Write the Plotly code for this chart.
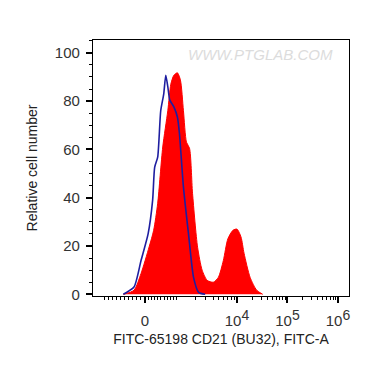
import plotly.graph_objects as go
import numpy as np

# x positions in display (decade) units: 10^4 -> 4, 10^5 -> 5, 10^6 -> 6
red_x = [1.75, 1.96, 2.10, 2.26, 2.35, 2.43, 2.53, 2.63, 2.69, 2.75, 2.82, 2.88, 2.94, 3.00, 3.06,
         3.12, 3.22, 3.31, 3.41, 3.53, 3.63, 3.73, 3.82, 3.92, 4.00, 4.08, 4.14, 4.26, 4.39, 4.51]
red_y = [0, 1.7, 8.6, 19.6, 26.5, 37.7, 61, 76, 87, 90.7, 91.7, 88.7, 76, 63, 60.5,
         41.8, 19.5, 10, 5.8, 5, 7, 14, 23, 26.5, 27, 23.7, 17, 7, 1.7, 0]

blue_x = [1.75, 1.96, 2.10, 2.24, 2.33, 2.37, 2.43, 2.49, 2.55, 2.59, 2.63, 2.67, 2.75, 2.82,
          2.86, 2.94, 3.04, 3.14, 3.24, 3.37]
blue_y = [0, 3, 14, 25, 39, 52.6, 56.8, 76, 83, 90.7, 86, 80.4, 77.6, 73.4,
          66.7, 44.4, 25, 7, 0.8, 0]

tick_vals = [1.386, 2.178, 2.812, 4, 5, 6]
tick_text = ["", "0", "",
             "10<sup><span style='font-size:14px'>4</span></sup>",
             "10<sup><span style='font-size:14px'>5</span></sup>",
             "10<sup><span style='font-size:14px'>6</span></sup>"]
y_ticks = [0, 20, 40, 60, 80, 100]

# minor tick positions (biexponential-like axis)
minor = []
for v in range(-1000, 1001, 100):
    if v < 0:
        minor.append(2.178 + (v / 1000) * (2.178 - 1.386))
    else:
        minor.append(2.178 + (v / 1000) * (2.812 - 2.178))
for m in range(2, 10):
    minor.append(2.812 + np.log10(m) * (4 - 2.812))
    minor.append(4 + np.log10(m))
    minor.append(5 + np.log10(m))

fig = go.Figure()
fig.add_trace(go.Scatter(x=red_x, y=red_y, mode="lines", fill="tozeroy",
                         fillcolor="#ff0000", line=dict(color="#ff0000", width=1,
                                                        shape="spline", smoothing=0.7),
                         hoverinfo="skip", showlegend=False))
fig.add_trace(go.Scatter(x=blue_x, y=blue_y, mode="lines",
                         line=dict(color="#1e1ea0", width=1.6, shape="spline", smoothing=0.6),
                         hoverinfo="skip", showlegend=False))

font = "Liberation Sans, Arial, sans-serif"
fig.update_layout(
    width=362, height=357,
    margin=dict(l=85, r=21, t=32, b=69),
    paper_bgcolor="white", plot_bgcolor="white",
    font=dict(family=font, size=14, color="#222"),
    xaxis=dict(range=[1.149, 6.218], tickmode="array", tickvals=tick_vals, ticktext=tick_text,
               automargin=False,
               showgrid=False, zeroline=False, showline=True, linecolor="black", linewidth=1.2,
               mirror=True, ticks="outside", ticklen=6, tickcolor="black", tickwidth=1.5,
               minor=dict(tickmode="array", tickvals=minor, ticks="outside", ticklen=3,
                          tickcolor="black", tickwidth=1),
               tickfont=dict(size=15, color="#333"), ticklabelstandoff=5,
               title=dict(text="FITC-65198 CD21 (BU32), FITC-A", font=dict(size=14), standoff=6)),
    yaxis=dict(range=[-0.7, 105.3], tickmode="array", tickvals=y_ticks,
               automargin=False,
               showgrid=False, zeroline=False, showline=True, linecolor="black", linewidth=1.2,
               mirror=True, ticks="outside", ticklen=6, tickcolor="black", tickwidth=1.5,
               minor=dict(dtick=5, tick0=0, ticks="outside", ticklen=3, tickcolor="black", tickwidth=1),
               tickfont=dict(size=15, color="#333"), ticklabelstandoff=3,
               title=dict(text="Relative cell number", font=dict(size=14), standoff=13)),
    annotations=[dict(text="<i>WWW.PTGLAB.COM</i>", xref="paper", yref="paper",
                      x=0.655, y=0.985, xanchor="center", yanchor="top", showarrow=False,
                      font=dict(size=15, color="#dcdcdc", family=font))],
)

fig.write_html("out.html")
